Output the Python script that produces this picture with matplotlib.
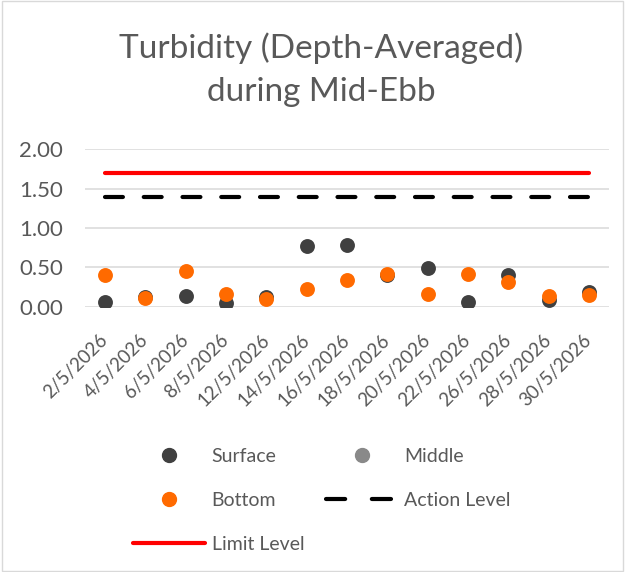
import matplotlib.pyplot as plt
from matplotlib.lines import Line2D
from matplotlib.patches import Rectangle

plt.rcParams['font.family'] = ['Lato', 'DejaVu Sans']

dates = ['2/5/2026', '4/5/2026', '6/5/2026', '8/5/2026', '12/5/2026', '14/5/2026',
         '16/5/2026', '18/5/2026', '20/5/2026', '22/5/2026', '26/5/2026', '28/5/2026',
         '30/5/2026']
surface = [0.06, 0.12, 0.13, 0.05, 0.12, 0.77, 0.78, 0.40, 0.49, 0.06, 0.40, 0.09, 0.19]
middle = []
bottom = [0.40, 0.11, 0.45, 0.16, 0.10, 0.23, 0.34, 0.42, 0.16, 0.42, 0.31, 0.14, 0.15]
action_level = [1.4] * len(dates)
limit_level = [1.7] * len(dates)

text_col = '#595959'
grid_col = '#d9d9d9'

fig = plt.figure(figsize=(6.25, 5.72), dpi=100)
ax = fig.add_axes([0.136, 0.4638, 0.8384, 0.2752])

x = list(range(len(dates)))
ax.plot(x, limit_level, color='#ff0000', lw=3, solid_capstyle='round', zorder=2)
ax.plot(x, action_level, color='black', lw=3, dashes=(4.3, 5.0),
        dash_capstyle='round', zorder=2)
ax.scatter(x, surface, s=115, color='#404040', zorder=3, linewidths=0)
ax.scatter(middle, middle, s=115, color='#898989', zorder=3, linewidths=0)
ax.scatter(x, bottom, s=115, color='#ff6a00', zorder=4, linewidths=0)

ax.set_xlim(-0.5, len(dates) - 0.5)
ax.set_ylim(0, 2)
ax.set_yticks([0, 0.5, 1.0, 1.5, 2.0])
ax.set_yticklabels(['%.2f' % v for v in [0, 0.5, 1.0, 1.5, 2.0]])
ax.set_xticks(x)
ax.set_xticklabels(dates, rotation=45, ha='right', va='center', rotation_mode='anchor')
ax.tick_params(length=0, colors=text_col)
ax.tick_params(axis='y', labelsize=16, pad=16)
ax.tick_params(axis='x', labelsize=13.5, pad=22)
ax.grid(axis='y', color=grid_col, lw=1.1)
ax.set_axisbelow(True)
for s in ax.spines.values():
    s.set_visible(False)

fig.text(0.514, 0.878, 'Turbidity (Depth-Averaged)\nduring Mid-Ebb', ha='center',
         va='center', fontsize=24, color=text_col, linespacing=1.55)

handles = [
    Line2D([], [], ls='none', marker='o', ms=10, color='#404040'),
    Line2D([], [], ls='none', marker='o', ms=10, color='#ff6a00'),
    Line2D([], [], color='#ff0000', lw=3, solid_capstyle='round'),
    Line2D([], [], ls='none', marker='o', ms=10, color='#898989'),
    Line2D([], [], color='black', lw=3, dashes=(4.6, 6.4), dash_capstyle='round'),
]
labels = ['Surface', 'Bottom', 'Limit Level', 'Middle', 'Action Level']
leg = fig.legend(handles, labels, ncol=2, loc='upper center', bbox_to_anchor=(0.515, 0.248),
                 frameon=False, fontsize=14, handlelength=3.7, labelspacing=1.4,
                 columnspacing=1.1, handletextpad=0.35, labelcolor=text_col)

fig.add_artist(Rectangle((0.003, 0.002), 0.994, 0.996, transform=fig.transFigure,
                         fill=False, edgecolor=grid_col, lw=1))

fig.savefig('out.png', dpi=100)
